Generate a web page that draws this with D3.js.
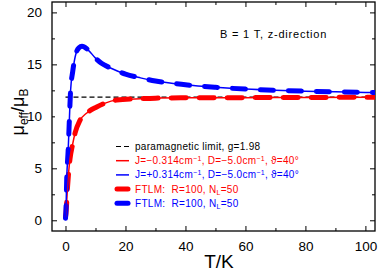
<!DOCTYPE html>
<html>
<head>
<meta charset="utf-8">
<script src="https://cdn.jsdelivr.net/npm/d3@7"></script>
<style>
  body { margin: 0; background: #fff; }
  text { font-family: "Liberation Sans", Arial, sans-serif; }
</style>
</head>
<body>
<div id="chart"></div>
<script>
// 数据：从图中读取
const blueT  = [0, 0.17, 0.4, 0.9, 1.2, 1.7, 2.4, 3.5, 4.5, 5.5, 7.5, 10, 12, 15, 20, 25, 30, 40, 50, 60, 70, 80, 90, 100, 105];
const blueMu = [0.2, 1.06, 3.9, 6.8, 9.0, 12.5, 14.3, 16.05, 16.6, 16.75, 16.4, 15.6, 15.1, 14.65, 14.07, 13.7, 13.4, 13.04, 12.8, 12.62, 12.5, 12.42, 12.36, 12.3, 12.28];
const redT   = [0, 0.17, 0.7, 1.5, 2.3, 3.2, 4.8, 7, 10.4, 13, 17, 25, 30, 40, 60, 80, 105];
const redMu  = [0.3, 0.73, 3.3, 5.9, 7.2, 8.4, 9.6, 10.3, 10.9, 11.25, 11.57, 11.7, 11.75, 11.78, 11.8, 11.82, 11.83];
const paraLimit = 11.85;
const xTickLabels = [0, 20, 40, 60, 80, 100];
const yTickLabels = [0, 5, 10, 15, 20];
// ^{...} 上标, _{...} 下标
const legendLabels = [
    "paramagnetic limit, g=1.98",
    "J=\u22120.314cm^{\u22121}, D=\u22125.0cm^{\u22121}, \u03D1=40\u00B0",
    "J=+0.314cm^{\u22121}, D=\u22125.0cm^{\u22121}, \u03D1=40\u00B0",
    "FTLM:\u00A0 R=100, N_{L}=50",
    "FTLM:\u00A0 R=100, N_{L}=50"
];

const W = 381, H = 272;
const margin = { top: 2, right: 6, bottom: 41, left: 52 };
const width = W - margin.left - margin.right;
const height = H - margin.top - margin.bottom;

const svg = d3.select("#chart").append("svg").attr("width", W).attr("height", H);
const g = svg.append("g").attr("transform", `translate(${margin.left},${margin.top})`);

const x = d3.scaleLinear().domain([-4.5, 103.2]).range([0, width]);
const y = d3.scaleLinear().domain([-1.03, 21]).range([height, 0]);

svg.append("defs").append("clipPath").attr("id", "clip")
    .append("rect").attr("width", width).attr("height", height);

// 坐标轴（刻度朝内）
const xMajor = d3.range(0, 101, 10);
const yMinor = d3.range(0, 21, 2.5);
const fmtX = d => xTickLabels.includes(d) ? d : "";
const fmtY = d => yTickLabels.includes(d) ? d : "";

const styleAxis = sel => {
    sel.select(".domain").remove();
    sel.selectAll("line").attr("stroke", "#000").attr("stroke-width", 1);
    sel.selectAll("text").attr("fill", "#000").style("font-size", "13.5px");
};

g.append("g").attr("transform", `translate(0,${height})`)
    .call(d3.axisBottom(x).tickValues(xMajor).tickSizeInner(-5).tickSizeOuter(0).tickPadding(10).tickFormat(fmtX))
    .call(styleAxis);
g.append("g")
    .call(d3.axisTop(x).tickValues(xMajor).tickSizeInner(-5).tickSizeOuter(0).tickFormat(""))
    .call(styleAxis);
g.append("g")
    .call(d3.axisLeft(y).tickValues(yMinor).tickSizeInner(-5).tickSizeOuter(0).tickPadding(10).tickFormat(fmtY))
    .call(styleAxis);
g.append("g").attr("transform", `translate(${width},0)`)
    .call(d3.axisRight(y).tickValues(yMinor).tickSizeInner(-5).tickSizeOuter(0).tickFormat(""))
    .call(styleAxis);

// 次刻度长度缩短
g.selectAll(".tick line").filter(d => d % 20 === 10 || d % 5 === 2.5)
    .attr("x2", function() { const v = +d3.select(this).attr("x2"); return v ? v * 0.6 : v; })
    .attr("y2", function() { const v = +d3.select(this).attr("y2"); return v ? v * 0.6 : v; });

g.append("rect").attr("width", width).attr("height", height)
    .attr("fill", "none").attr("stroke", "#000").attr("stroke-width", 1.3);

// 曲线
const line = d3.line().x(d => x(d[0])).y(d => y(d[1])).curve(d3.curveMonotoneX);
const blueData = blueT.map((t, i) => [t, blueMu[i]]);
const redData = redT.map((t, i) => [t, redMu[i]]);

const plot = g.append("g").attr("clip-path", "url(#clip)");

plot.append("line")
    .attr("x1", x(0)).attr("x2", x(103.2)).attr("y1", y(paraLimit)).attr("y2", y(paraLimit))
    .attr("stroke", "#000").attr("stroke-width", 1.1).attr("stroke-dasharray", "5,3");

plot.append("path").datum(redData).attr("d", line)
    .attr("fill", "none").attr("stroke", "#ff0000").attr("stroke-width", 5)
    .attr("stroke-linecap", "round").attr("stroke-dasharray", "15,13");
plot.append("path").datum(blueData).attr("d", line)
    .attr("fill", "none").attr("stroke", "#0000ff").attr("stroke-width", 5)
    .attr("stroke-linecap", "round").attr("stroke-dasharray", "13,15");
plot.append("path").datum(redData).attr("d", line)
    .attr("fill", "none").attr("stroke", "#ff0000").attr("stroke-width", 1.5);
plot.append("path").datum(blueData).attr("d", line)
    .attr("fill", "none").attr("stroke", "#0000ff").attr("stroke-width", 1.5);

// 注释
svg.append("text").attr("x", 220).attr("y", 37.5)
    .style("font-size", "11px").style("letter-spacing", "0.8px").attr("fill", "#000")
    .text("B = 1 T, z-direction");

// 图例
const legendStyles = [
    { color: "#000", w: 1.1, dash: "5,3" },
    { color: "#ff0000", w: 1.5, dash: null },
    { color: "#0000ff", w: 1.5, dash: null },
    { color: "#ff0000", w: 5, dash: null },
    { color: "#0000ff", w: 5, dash: null }
];
const legend = svg.append("g");
legendLabels.forEach((label, i) => {
    const ly = 146.5 + i * 14.2;
    const s = legendStyles[i];
    legend.append("line")
        .attr("x1", i >= 3 ? 117 : 116).attr("x2", i >= 3 ? 128 : 129)
        .attr("y1", ly).attr("y2", ly)
        .attr("stroke", s.color).attr("stroke-width", s.w)
        .attr("stroke-linecap", i >= 3 ? "round" : "butt")
        .attr("stroke-dasharray", s.dash);
    const t = legend.append("text").attr("x", 135).attr("y", ly + 3.5)
        .style("font-size", "10px").style("letter-spacing", "0.3px")
        .attr("fill", s.color);
    let shift = 0;
    label.split(/(\^\{[^}]*\}|_\{[^}]*\})/).filter(p => p).forEach(p => {
        let target = 0, txt = p, size = null;
        if (p[0] === "^") { target = -3.5; txt = p.slice(2, -1); size = "7px"; }
        else if (p[0] === "_") { target = 2; txt = p.slice(2, -1); size = "7px"; }
        const ts = t.append("tspan").attr("dy", target - shift).text(txt);
        if (size) ts.style("font-size", size);
        shift = target;
    });
});

// 轴标题
svg.append("text").attr("x", 219).attr("y", 268).attr("text-anchor", "middle")
    .style("font-size", "19px").attr("fill", "#000").text("T/K");

const yl = svg.append("text").attr("transform", "translate(24,112) rotate(-90)")
    .attr("text-anchor", "middle").style("font-size", "18px").attr("fill", "#000");
yl.append("tspan").text("\u03BC");
yl.append("tspan").attr("dy", 4).style("font-size", "12px").text("eff");
yl.append("tspan").attr("dy", -4).text("/\u03BC");
yl.append("tspan").attr("dy", 4).style("font-size", "12px").text("B");
</script>
</body>
</html>
